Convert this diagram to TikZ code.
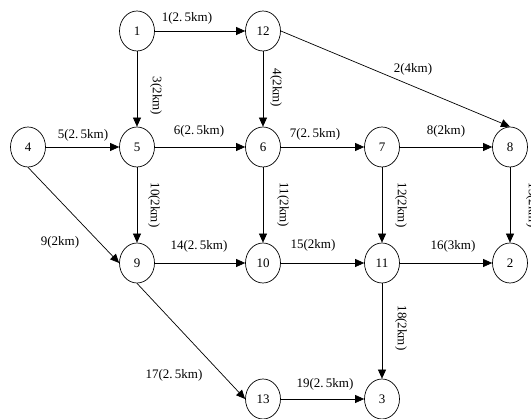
\documentclass[tikz,border=0pt]{standalone}
\usepackage{fontspec}
\setmainfont{Liberation Serif}
\usetikzlibrary{arrows.meta,shapes.geometric}
\begin{document}
\begin{tikzpicture}[x=1pt,y=-1pt,
  nd/.style={draw,ellipse,line width=0.7pt,minimum width=35pt,minimum height=40pt,inner sep=0pt,font=\fontsize{13}{13}\selectfont},
  ar/.style={draw,line width=0.7pt,-{Triangle[length=9pt,width=8pt]}},
  lb/.style={font=\fontsize{13}{13}\selectfont,inner sep=0pt},
  vl/.style={lb,rotate=-90}]
\useasboundingbox (0,0) rectangle (531,419);
\node[nd] (n1) at (137,31) {1};
\node[nd] (n12) at (263,31) {12};
\node[nd] (n4) at (28,147) {4};
\node[nd] (n5) at (137,147) {5};
\node[nd] (n6) at (263,147) {6};
\node[nd] (n7) at (382,147) {7};
\node[nd] (n8) at (510,147) {8};
\node[nd] (n9) at (137,263) {9};
\node[nd] (n10) at (263,263) {10};
\node[nd] (n11) at (382,263) {11};
\node[nd] (n2) at (510,263) {2};
\node[nd] (n13) at (263,399) {13};
\node[nd] (n3) at (382,399) {3};
% connectors
\draw[ar] (n1) -- (n12);
\draw[ar] (n12.east) -- (n8.north);
\draw[ar] (n1) -- (n5);
\draw[ar] (n12) -- (n6);
\draw[ar] (n4) -- (n5);
\draw[ar] (n5) -- (n6);
\draw[ar] (n6) -- (n7);
\draw[ar] (n7) -- (n8);
\draw[ar] (n4.south) -- (n9.west);
\draw[ar] (n5) -- (n9);
\draw[ar] (n6) -- (n10);
\draw[ar] (n7) -- (n11);
\draw[ar] (n8) -- (n2);
\draw[ar] (n9) -- (n10);
\draw[ar] (n10) -- (n11);
\draw[ar] (n11) -- (n2);
\draw[ar] (n9.south) -- (n13.west);
\draw[ar] (n11) -- (n3);
\draw[ar] (n13) -- (n3);
% labels
\node[lb] (l1) at (187,18) {1(2.\,5km)};
\node[lb] (l2) at (413,69) {2(4km)};
\node[vl] (l3) at (156,96) {3(2km)};
\node[vl] (l4) at (276,88) {4(2km)};
\node[lb] (l5) at (83,135) {5(2.\,5km)};
\node[lb] (l6) at (199,131) {6(2.\,5km)};
\node[lb] (l7) at (315,134) {7(2.\,5km)};
\node[lb] (l8) at (446,131) {8(2km)};
\node[lb] (l9) at (60,242) {9(2km)};
\node[vl] (l10) at (154,205) {10(2km)};
\node[vl] (l11) at (283,205) {11(2km)};
\node[vl] (l12) at (401,205) {12(2km)};
\node[vl] (l13) at (532,205) {13(2km)};
\node[lb] (l14) at (199,246) {14(2.\,5km)};
\node[lb] (l15) at (313,245) {15(2km)};
\node[lb] (l16) at (453,246) {16(3km)};
\node[lb] (l17) at (174,375) {17(2.\,5km)};
\node[vl] (l18) at (401,328) {18(2km)};
\node[lb] (l19) at (325,384) {19(2.\,5km)};
\end{tikzpicture}
\end{document}
